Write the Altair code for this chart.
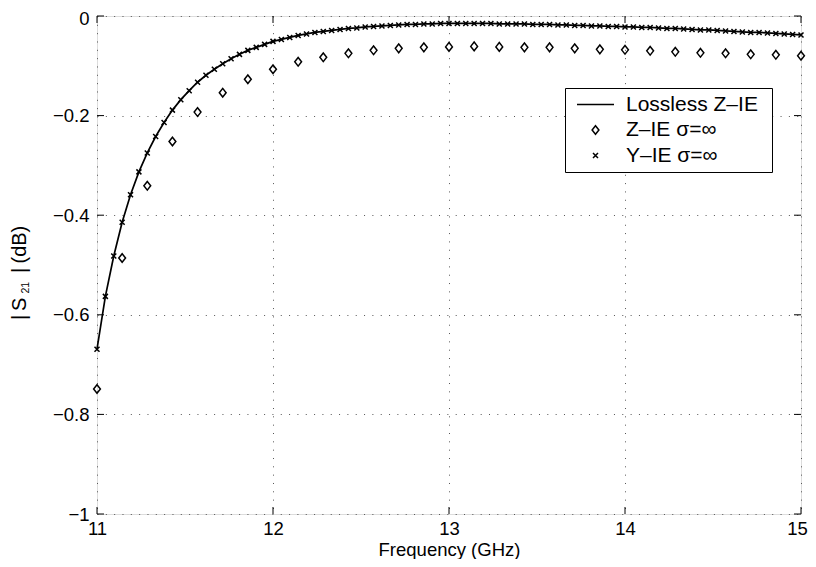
import altair as alt
import pandas as pd

# ---- data ----
# Y-IE (sigma = inf) crosses: 85 points, 11 GHz to 15 GHz in steps of 1/21 GHz
yie_db = [
    -0.669, -0.563, -0.482, -0.414, -0.359, -0.313, -0.275, -0.242, -0.214, -0.189,
    -0.168, -0.150, -0.133, -0.119, -0.107, -0.096, -0.086, -0.077, -0.069, -0.063,
    -0.057, -0.051, -0.047, -0.043, -0.039, -0.036, -0.033, -0.031, -0.029, -0.027,
    -0.025, -0.024, -0.022, -0.021, -0.020, -0.019, -0.018, -0.017, -0.017, -0.016,
    -0.016, -0.015, -0.015, -0.015, -0.015, -0.015, -0.015, -0.015, -0.016, -0.016,
    -0.016, -0.016, -0.017, -0.017, -0.017, -0.018, -0.018, -0.019, -0.019, -0.020,
    -0.020, -0.021, -0.021, -0.022, -0.022, -0.023, -0.023, -0.024, -0.025, -0.025,
    -0.026, -0.027, -0.028, -0.028, -0.029, -0.030, -0.031, -0.032, -0.033, -0.033,
    -0.034, -0.035, -0.036, -0.037, -0.038,
]
yie_freq = [round(11 + i / 21, 4) for i in range(len(yie_db))]

# Lossless Z-IE solid line (coincides with the Y-IE crosses)
lossless_db = list(yie_db)
lossless_freq = list(yie_freq)

# Z-IE (sigma = inf) diamonds: 29 points, steps of 1/7 GHz
zie_db = [
    -0.749, -0.486, -0.341, -0.252, -0.193, -0.154, -0.127, -0.107, -0.092, -0.083,
    -0.075, -0.069, -0.065, -0.063, -0.062, -0.061, -0.062, -0.063, -0.063, -0.065,
    -0.067, -0.068, -0.070, -0.072, -0.074, -0.075, -0.077, -0.078, -0.080,
]
zie_freq = [round(11 + j / 7, 4) for j in range(len(zie_db))]

series_names = ["Lossless Z\u2013IE", "Z\u2013IE \u03c3=\u221e", "Y\u2013IE \u03c3=\u221e"]
x_ticks = [11, 12, 13, 14, 15]
y_ticks = [-1.0, -0.8, -0.6, -0.4, -0.2, 0.0]

W, H = 704, 498
FONT = "Liberation Sans"

line_df = pd.DataFrame({"freq": lossless_freq, "val": lossless_db, "series": series_names[0]})
pts_df = pd.concat([
    pd.DataFrame({"freq": zie_freq, "val": zie_db, "series": series_names[1]}),
    pd.DataFrame({"freq": yie_freq, "val": yie_db, "series": series_names[2]}),
])

xscale = alt.Scale(domain=[11, 15], nice=False, zero=False)
yscale = alt.Scale(domain=[-1, 0], nice=False, zero=False)

xaxis = alt.Axis(values=x_ticks, format="d", title="Frequency (GHz)", grid=True,
                 gridDash=[1, 7.33], gridColor="#555", gridWidth=1,
                 ticks=False, domain=False, labelPadding=5, titlePadding=3,
                 labelFlush=False,
                 labelOffset=alt.condition("datum.value == 15", alt.value(-4), alt.value(0)),
                 labelFontSize=18.5, titleFontSize=18.5, labelFont=FONT, titleFont=FONT,
                 labelColor="black", titleColor="black", titleFontWeight="normal")
yaxis = alt.Axis(values=y_ticks, format="~g", title=None, grid=True,
                 gridDash=[1, 7.33], gridColor="#555", gridWidth=1,
                 ticks=False, domain=False, labelPadding=8, labelFlush=False,
                 labelOffset=alt.condition("datum.value == 0", alt.value(2), alt.value(0)),
                 labelFontSize=18.5, labelFont=FONT, labelColor="black")

base_x = alt.X("freq:Q", scale=xscale, axis=xaxis)
base_y = alt.Y("val:Q", scale=yscale, axis=yaxis)

line = alt.Chart(line_df).mark_line(color="black", strokeWidth=1.7).encode(
    x=base_x, y=base_y
)

shape_scale = alt.Scale(
    domain=series_names,
    range=[
        "M-3.7,0L3.7,0",
        "M0,-0.86L0.68,0L0,0.86L-0.68,0Z",
        "M-0.5,-0.5L0.5,0.5M-0.5,0.5L0.5,-0.5",
    ],
)
points = alt.Chart(pts_df).mark_point(
    filled=False, stroke="black", strokeWidth=1.5, size=100, opacity=1
).encode(
    x=alt.X("freq:Q", scale=xscale),
    y=alt.Y("val:Q", scale=yscale),
    shape=alt.Shape("series:N", scale=shape_scale, legend=alt.Legend(
        title="\u00a0", titleOrient="right", titleFontSize=1, titlePadding=8,
        orient="none", legendX=468, legendY=72, padding=6,
        fillColor="white", strokeColor="black",
        labelFontSize=21, labelFont=FONT, labelColor="black",
        symbolSize=100, symbolStrokeWidth=1.5, symbolStrokeColor="black",
        symbolFillColor="transparent", symbolOffset=14, labelOffset=20,
        rowPadding=3.5, labelLimit=400,
    )),
)

tick_len = 7
xt_df = pd.DataFrame({"t": x_ticks})
yt_df = pd.DataFrame({"t": y_ticks})
xt_bottom = alt.Chart(xt_df).mark_rule(color="black", strokeWidth=1).encode(
    x=alt.X("t:Q", scale=xscale), y=alt.value(H), y2=alt.value(H - tick_len))
xt_top = alt.Chart(xt_df).mark_rule(color="black", strokeWidth=1).encode(
    x=alt.X("t:Q", scale=xscale), y=alt.value(0), y2=alt.value(tick_len))
yt_left = alt.Chart(yt_df).mark_rule(color="black", strokeWidth=1).encode(
    y=alt.Y("t:Q", scale=yscale), x=alt.value(0), x2=alt.value(tick_len))
yt_right = alt.Chart(yt_df).mark_rule(color="black", strokeWidth=1).encode(
    y=alt.Y("t:Q", scale=yscale), x=alt.value(W), x2=alt.value(W - tick_len))

# y axis title |S21| (dB) with subscript, built from text pieces
def ytext(txt, x, y, size):
    return alt.Chart(pd.DataFrame({"t": [txt]})).mark_text(
        angle=270, align="left", baseline="alphabetic", font=FONT,
        fontSize=size, color="black"
    ).encode(text="t:N", x=alt.value(x), y=alt.value(y))

title_parts = [
    ytext("|", -71.5, 304, 20),
    ytext("S", -71.5, 295, 20),
    ytext("21", -68, 277.5, 10.5),
    ytext("|", -71.5, 257, 20),
    ytext("(dB)", -71.5, 247.5, 20),
]

chart = alt.layer(
    line, points, xt_bottom, xt_top, yt_left, yt_right, *title_parts
).properties(
    width=W, height=H,
    autosize=alt.AutoSizeParams(type="none"),
    padding={"left": 89, "top": 8, "right": 7, "bottom": 45},
).configure_view(stroke="black", strokeWidth=1.2).configure(background="white")

chart.save("out.html", embed_options={"renderer": "svg", "actions": False})
